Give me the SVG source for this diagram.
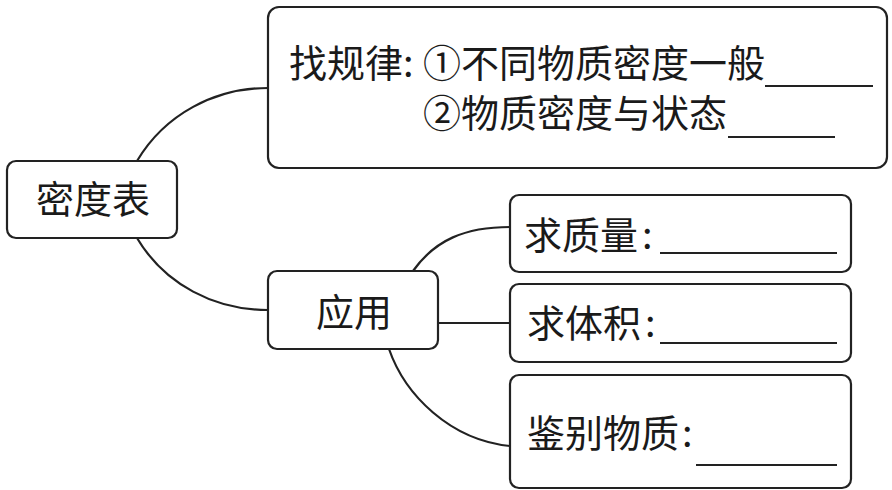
<svg xmlns="http://www.w3.org/2000/svg" width="892" height="490" viewBox="0 0 892 490">
<style>
.box{fill:#fff;stroke:#222;stroke-width:2.2}
.c{fill:none;stroke:#222;stroke-width:2.2}
.t{font-family:"Noto Sans CJK SC","Noto Sans",sans-serif;font-size:38px;fill:#1a1a1a}
.u{stroke:#222;stroke-width:2}
</style>
<rect width="892" height="490" fill="#fff"/>
<g id="connectors">
<path class="c" d="M137,161 C165,114 215,88 268,88"/>
<path class="c" d="M137,238 C165,285 215,310 268,310"/>
<path class="c" d="M413,271 C435,240 465,227 510,227"/>
<path class="c" d="M438,323 L510,323"/>
<path class="c" d="M389,349 C405,395 450,440 510,446"/>
</g>
<g id="node-midu">
<rect class="box" x="7" y="161" width="170" height="77" rx="9"/>
<text class="t" x="36" y="213">密度表</text>
</g>
<g id="node-guilv">
<rect class="box" x="268" y="7" width="619" height="161" rx="11"/>
<text class="t" x="289" y="77">找规律:</text>
<text class="t" x="423" y="77">①不同物质密度一般</text>
<line class="u" x1="765" y1="86" x2="873" y2="86"/>
<text class="t" x="423" y="127">②物质密度与状态</text>
<line class="u" x1="728" y1="137" x2="835" y2="137"/>
</g>
<g id="node-yingyong">
<rect class="box" x="268" y="271" width="170" height="78" rx="9"/>
<text class="t" x="316" y="326">应用</text>
</g>
<g id="node-zhiliang">
<rect class="box" x="510" y="195" width="341" height="77" rx="9"/>
<text class="t" x="524" y="249">求质量<tspan dx="4">:</tspan></text>
<line class="u" x1="660" y1="253" x2="837" y2="253"/>
</g>
<g id="node-tiji">
<rect class="box" x="510" y="284" width="341" height="78" rx="9"/>
<text class="t" x="527" y="337">求体积<tspan dx="4">:</tspan></text>
<line class="u" x1="660" y1="343" x2="837" y2="343"/>
</g>
<g id="node-jianbie">
<rect class="box" x="510" y="375" width="341" height="113" rx="9"/>
<text class="t" x="527" y="447">鉴别物质<tspan dx="3">:</tspan></text>
<line class="u" x1="696" y1="465" x2="837" y2="465"/>
</g>
</svg>
